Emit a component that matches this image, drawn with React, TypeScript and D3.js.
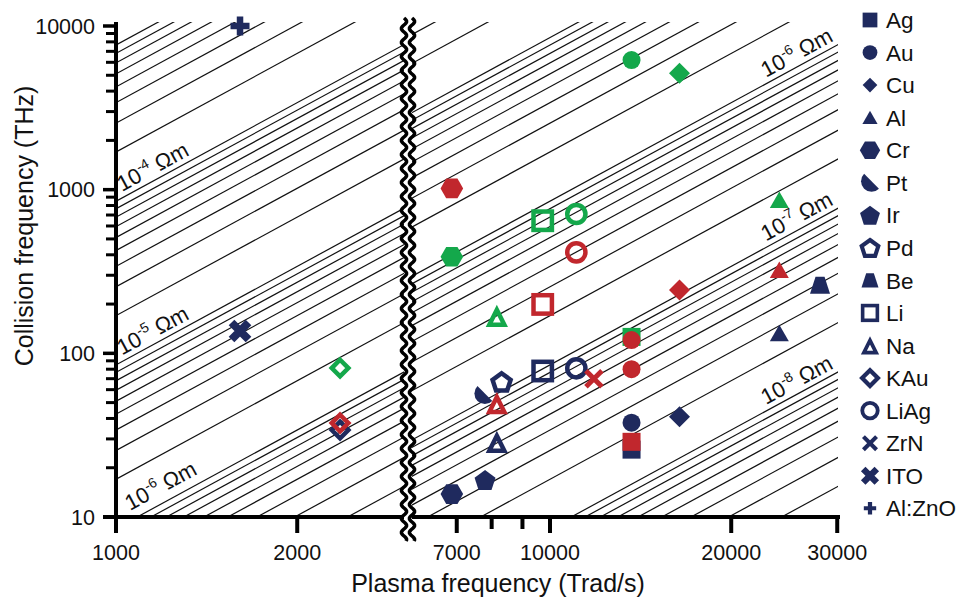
import React from "react";
import * as d3 from "d3";

// ---------- data ----------
const materials = ["Ag", "Au", "Cu", "Al", "Cr", "Pt", "Ir", "Pd", "Be", "Li", "Na", "KAu", "LiAg", "ZrN", "ITO", "Al:ZnO"];
const shapes = ["square", "circle", "diamond", "triangle", "hexagon", "pt", "pentagon", "pentagonOpen", "trapezoid", "squareOpen", "triangleOpen", "diamondOpen", "circleOpen", "x", "xBold", "plus"];

// [material, plasma frequency (Trad/s), collision frequency (THz)]
const greenPoints: [string, number, number][] = [
  ["Ag", 13660, 126],
  ["Au", 13660, 6190],
  ["Cu", 16410, 5150],
  ["Al", 24040, 864],
  ["Cr", 6870, 389],
  ["Na", 8160, 169],
  ["Li", 9725, 646],
  ["KAu", 2356, 81.3],
  ["LiAg", 11060, 710],
];
const navyPoints: [string, number, number][] = [
  ["Ag", 13660, 25.8],
  ["Au", 13660, 37.7],
  ["Cu", 16410, 41],
  ["Al", 24040, 132.5],
  ["Cr", 6870, 13.8],
  ["Pt", 7750, 55.6],
  ["Ir", 7800, 16.8],
  ["Pd", 8310, 67],
  ["Be", 28090, 261],
  ["Li", 9725, 78],
  ["Na", 8160, 28.7],
  ["KAu", 2356, 34],
  ["LiAg", 11060, 81],
  ["ITO", 1607, 137],
  ["Al:ZnO", 1607, 10000],
];
const redPoints: [string, number, number][] = [
  ["Ag", 13660, 28.8],
  ["Au", 13660, 120.6],
  ["Au", 13660, 80],
  ["Cu", 16410, 244],
  ["Al", 24040, 323],
  ["Cr", 6870, 1018],
  ["Na", 8160, 49.5],
  ["Li", 9725, 199],
  ["KAu", 2356, 37.5],
  ["LiAg", 11060, 414],
  ["ZrN", 11830, 70],
];

const xTicksLeft = [1000, 2000];
const xTicksRight = [7000, 8000, 9000, 10000, 20000, 30000];
const xTickLabels = [1000, 2000, 7000, 10000, 20000, 30000];
const yTicksMajor = [10, 100, 1000, 10000];
const yTicksMinor = [10, 100, 1000].flatMap((d) => [2, 3, 4, 5, 6, 7, 8, 9].map((m) => m * d));

// resistivity reference lines rho = m * 10^e (Ohm m)
const rhoExponents = [-9, -8, -7, -6, -5, -4];
const rhoMantissas = [1, 2, 3, 4, 5, 6, 7, 8, 9];
const leftLabelExps = [-4, -5, -6];
const rightLabelExps = [-6, -7, -8];
// gamma[THz] = K * rho * wp[Trad/s]^2  (K ~ eps0 * 1e12)
const K = 8.5;

// ---------- layout ----------
const W = 960, H = 601;
const NAVY = "#1F2A5E", RED = "#C1272D", GREEN = "#14A84B";
const FONT = "'Liberation Sans', Arial, Helvetica, sans-serif";

const xL = d3.scaleLog().domain([1000, 10000]).range([116, 116 + 602]);
const xR = d3.scaleLog().domain([10000, 100000]).range([550, 550 + 602]);
const y = d3.scaleLog().domain([10, 10000]).range([517, 26]);
const AXIS_Y = 517, AXIS_X = 116, TOP = 22;
const BREAK_L = 404, BREAK_R = 412, RIGHT_END = 838;

const xOf = (wp: number) => (wp < 4000 ? xL(wp) : xR(wp));

function poly(pts: number[][]) {
  return "M" + pts.map((p) => p[0].toFixed(2) + "," + p[1].toFixed(2)).join("L") + "Z";
}
function regular(n: number, r: number, startDeg: number) {
  return d3.range(n).map((i) => {
    const a = ((startDeg + (360 / n) * i) * Math.PI) / 180;
    return [r * Math.cos(a), r * Math.sin(a)];
  });
}

function Marker({ shape, color }: { shape: string; color: string }) {
  switch (shape) {
    case "square":
      return <rect x={-9} y={-9} width={18} height={18} fill={color} />;
    case "circle":
      return <circle r={9} fill={color} />;
    case "diamond":
      return <path d={poly([[0, -10.5], [10.5, 0], [0, 10.5], [-10.5, 0]])} fill={color} />;
    case "triangle":
      return <path d={poly([[0, -8.5], [9.5, 8], [-9.5, 8]])} fill={color} />;
    case "hexagon":
      return <path d={poly(regular(6, 11.3, 0))} fill={color} />;
    case "pt": {
      const r = 10.5, c = r * Math.SQRT1_2;
      return (
        <path transform={`translate(${(r - c) / 2},${-(r - c) / 2})`} d={`M${-c},${-c}A${r},${r} 0 0 0 ${c},${c}Z`} fill={color} />
      );
    }
    case "pentagon":
      return <path transform="translate(0,1)" d={poly(regular(5, 11, -90))} fill={color} />;
    case "pentagonOpen":
      return <path transform="translate(0,1)" d={poly(regular(5, 9.5, -90))} fill="none" stroke={color} strokeWidth={4.5} />;
    case "trapezoid":
      return <path d={poly([[-4.5, -8.5], [4.5, -8.5], [10, 8.5], [-10, 8.5]])} fill={color} />;
    case "squareOpen":
      return <rect x={-9.2} y={-9.2} width={18.4} height={18.4} fill="none" stroke={color} strokeWidth={4.5} />;
    case "triangleOpen":
      return <path transform="translate(0,2.2)" d={poly([[0, -8.5], [7.5, 6.5], [-7.5, 6.5]])} fill="none" stroke={color} strokeWidth={4.5} strokeMiterlimit={10} />;
    case "diamondOpen":
      return <path d={poly([[0, -8.3], [8.3, 0], [0, 8.3], [-8.3, 0]])} fill="none" stroke={color} strokeWidth={4.5} />;
    case "circleOpen":
      return <circle r={9.1} fill="none" stroke={color} strokeWidth={4.5} />;
    case "x":
      return <path d="M-8,-8L8,8M-8,8L8,-8" stroke={color} strokeWidth={5} fill="none" />;
    case "xBold":
      return <path d="M-8.5,-8.5L8.5,8.5M-8.5,8.5L8.5,-8.5" stroke={color} strokeWidth={8} fill="none" />;
    case "plus":
      return <path d="M-9.5,0L9.5,0M0,-9.5L0,9.5" stroke={color} strokeWidth={6.5} fill="none" />;
  }
  return null;
}

const legendScale: Record<string, number> = {
  square: 0.82, circle: 0.82, diamond: 0.7, triangle: 0.8, hexagon: 0.9, pt: 1.0, pentagon: 0.95,
  pentagonOpen: 0.92, trapezoid: 0.85, squareOpen: 0.8, triangleOpen: 0.82, diamondOpen: 0.95,
  circleOpen: 0.85, x: 0.82, xBold: 0.8, plus: 0.65,
};

function shapeOf(m: string) {
  return shapes[materials.indexOf(m)];
}

export default function App() {
  const rhos = rhoExponents.flatMap((e) => rhoMantissas.map((m) => m * Math.pow(10, e)));
  const gam = (rho: number, wp: number) => K * rho * wp * wp;

  const lineL = (rho: number) => {
    const w0 = 900, w1 = 3500;
    return `M${xL(w0)},${y(gam(rho, w0))}L${xL(w1)},${y(gam(rho, w1))}`;
  };
  const lineR = (rho: number) => {
    const w0 = 5000, w1 = 33000;
    return `M${xR(w0)},${y(gam(rho, w0))}L${xR(w1)},${y(gam(rho, w1))}`;
  };
  const angle =
    (Math.atan2(y(gam(1e-5, 1000)) - y(gam(1e-5, 2000)), xL(2000) - xL(1000)) * 180) / Math.PI;

  const labelAt = (exp: number, side: "L" | "R", x0: number, dy: number, key: string) => {
    const sc = side === "L" ? xL : xR;
    const wp = sc.invert(x0);
    const ly = y(gam(Math.pow(10, exp), wp)) - dy;
    return (
      <text key={key} transform={`translate(${x0},${ly}) rotate(${-angle})`} fontSize={22} fontFamily={FONT} fill="#111">
        10<tspan dy={-9} fontSize={14}>{String(exp)}</tspan>
        <tspan dy={9}>{" \u03A9m"}</tspan>
      </text>
    );
  };

  const wave = (x0: number) => {
    const pts: [number, number][] = d3.range(18, 542, 1).map((yy) => [x0 + 2.6 * Math.sin(((yy - 18) / 14) * 2 * Math.PI), yy]);
    return d3.line()(pts) || "";
  };

  const series: [string, [string, number, number][]][] = [
    [GREEN, greenPoints],
    [NAVY, navyPoints],
    [RED, redPoints],
  ];

  return (
    <svg width={W} height={H} style={{ position: "absolute", left: 0, top: 0, background: "#fff" }}>
      <defs>
        <clipPath id="clipL">
          <rect x={AXIS_X} y={TOP} width={BREAK_L - AXIS_X} height={AXIS_Y - TOP} />
        </clipPath>
        <clipPath id="clipR">
          <rect x={BREAK_R} y={TOP} width={RIGHT_END - BREAK_R} height={AXIS_Y - TOP} />
        </clipPath>
      </defs>
      <rect width={W} height={H} fill="#fff" />

      {/* resistivity lines */}
      <g clipPath="url(#clipL)" stroke="#111" strokeWidth={1.2} fill="none">
        {rhos.map((r, i) => (
          <path key={i} d={lineL(r)} />
        ))}
      </g>
      <g clipPath="url(#clipR)" stroke="#111" strokeWidth={1.2} fill="none">
        {rhos.map((r, i) => (
          <path key={i} d={lineR(r)} />
        ))}
      </g>

      {/* line labels */}
      {labelAt(leftLabelExps[0], "L", 122, 6, "l0")}
      {labelAt(leftLabelExps[1], "L", 122, 6, "l1")}
      {labelAt(leftLabelExps[2], "L", 130, 10, "l2")}
      {rightLabelExps.map((e, i) => labelAt(e, "R", 766, 6, "r" + i))}

      {/* y axis */}
      <line x1={AXIS_X} x2={AXIS_X} y1={TOP} y2={532} stroke="#000" strokeWidth={4} />
      {yTicksMajor.map((t) => (
        <line key={"ym" + t} x1={103} x2={AXIS_X} y1={y(t)} y2={y(t)} stroke="#000" strokeWidth={3.5} />
      ))}
      {yTicksMinor.map((t) => (
        <line key={"yn" + t} x1={106} x2={AXIS_X} y1={y(t)} y2={y(t)} stroke="#000" strokeWidth={3} />
      ))}
      {yTicksMajor.map((t) => (
        <text key={"yl" + t} x={95} y={y(t)} dy="0.35em" textAnchor="end" fontSize={21.5} fontFamily={FONT} fill="#111">
          {t}
        </text>
      ))}

      {/* x axis */}
      <line x1={103} x2={BREAK_L} y1={AXIS_Y} y2={AXIS_Y} stroke="#000" strokeWidth={4} />
      <line x1={BREAK_R} x2={RIGHT_END + 2} y1={AXIS_Y} y2={AXIS_Y} stroke="#000" strokeWidth={4} />
      {xTicksLeft.map((t) => (
        <line key={"xl" + t} x1={xL(t)} x2={xL(t)} y1={AXIS_Y} y2={533} stroke="#000" strokeWidth={4} />
      ))}
      {xTicksRight.map((t) => (
        <line key={"xr" + t} x1={xR(t)} x2={xR(t)} y1={AXIS_Y} y2={xTickLabels.includes(t) ? 533 : 529} stroke="#000" strokeWidth={4} />
      ))}
      {xTickLabels.map((t) => (
        <text key={"xt" + t} x={xOf(t)} y={560} textAnchor="middle" fontSize={21.5} fontFamily={FONT} fill="#111">
          {t}
        </text>
      ))}

      {/* axis break */}
      <rect x={BREAK_L + 1} y={505} width={BREAK_R - BREAK_L - 2} height={25} fill="#fff" />
      <path d={wave(BREAK_L)} fill="none" stroke="#000" strokeWidth={3.5} />
      <path d={wave(BREAK_R)} fill="none" stroke="#000" strokeWidth={3.5} />

      {/* axis titles */}
      <text x={498} y={592} textAnchor="middle" fontSize={25} fontFamily={FONT} fill="#111">
        Plasma frequency (Trad/s)
      </text>
      <text transform="translate(33,226) rotate(-90)" textAnchor="middle" fontSize={25} fontFamily={FONT} fill="#111">
        Collision frequency (THz)
      </text>

      {/* data points */}
      {series.map(([color, pts], si) => (
        <g key={"s" + si}>
          {pts.map(([m, wp, g], i) => (
            <g key={i} transform={`translate(${xOf(wp)},${y(g)})`}>
              <Marker shape={shapeOf(m)} color={color} />
            </g>
          ))}
        </g>
      ))}

      {/* legend */}
      {materials.map((m, i) => {
        const ly = 20 + i * 32.55;
        const sh = shapes[i];
        return (
          <g key={"lg" + m}>
            <g transform={`translate(870,${ly}) scale(${legendScale[sh]})`}>
              <Marker shape={sh} color={NAVY} />
            </g>
            <text x={886} y={ly} dy="0.36em" fontSize={22.5} fontFamily={FONT} fill="#111">
              {m}
            </text>
          </g>
        );
      })}
    </svg>
  );
}
